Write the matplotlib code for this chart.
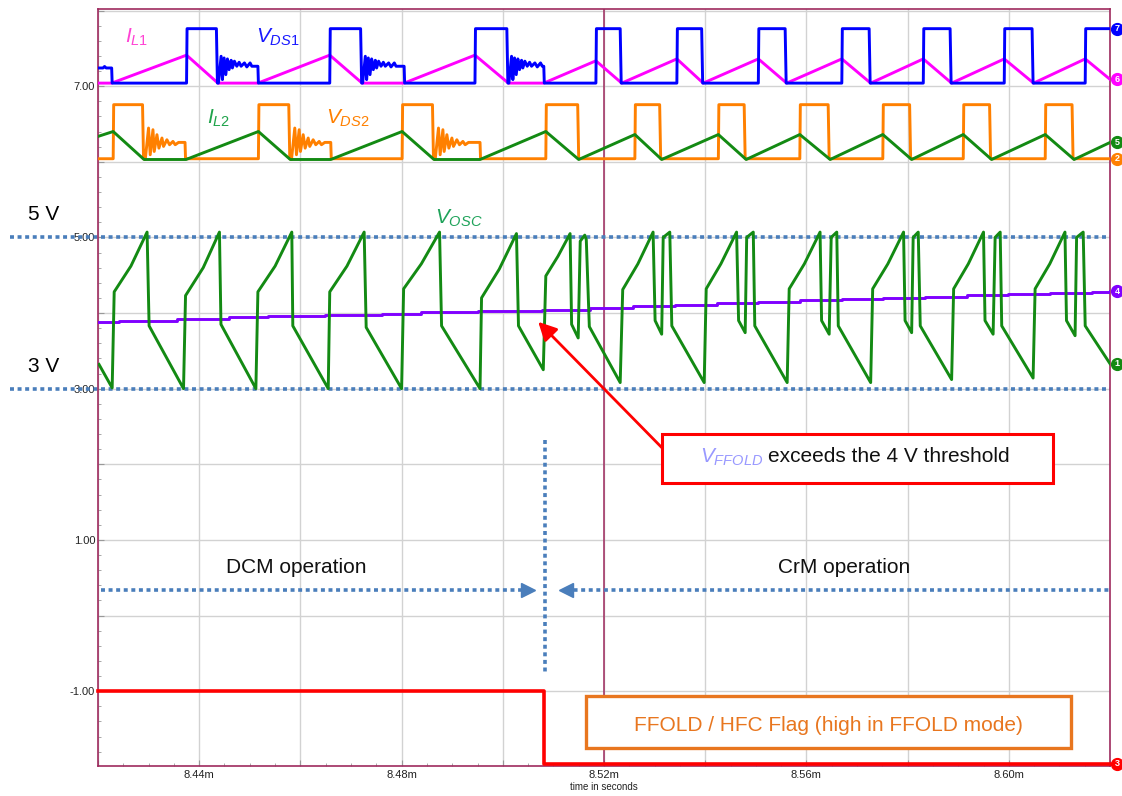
import matplotlib
matplotlib.use('Agg')
import matplotlib.pyplot as plt
from matplotlib.patches import Rectangle
from matplotlib.ticker import MultipleLocator, FuncFormatter

plt.rcParams['font.family'] = ['Liberation Sans', 'DejaVu Sans']
plt.rcParams['mathtext.fontset'] = 'custom'
plt.rcParams['mathtext.it'] = 'Liberation Sans:italic'
plt.rcParams['mathtext.rm'] = 'Liberation Sans'
plt.rcParams['mathtext.bf'] = 'Liberation Sans:bold'

# ---------------- data (time in ms, values in chart units) ----------------
T_START, T_END = 8.42, 8.62

# V_DS1 (trace 7)
vds1_rise = [8.4375, 8.4658, 8.4945, 8.5184, 8.5344, 8.5505, 8.5670, 8.5831, 8.5991, 8.6151]
vds1_fall = [8.4434, 8.4719, 8.5008, 8.5232, 8.5393, 8.5558, 8.5724, 8.5884, 8.6046]
vds1_ring_end = [8.4516, 8.4805, 8.5081]
vds1_ring_dt_us = [0.20, 0.73, 0.99, 1.32, 1.66, 1.98, 2.31, 2.71, 2.96, 3.36, 3.83, 4.29, 4.68, 5.34, 5.81, 6.46, 6.80]
vds1_ring_v = [7.04, 7.395, 7.086, 7.373, 7.152, 7.36, 7.218, 7.342, 7.24, 7.33, 7.263, 7.316, 7.263, 7.307, 7.254, 7.307, 7.263]
vds1_init_t = [8.4200, 8.4210, 8.4213, 8.4216, 8.4227]
vds1_init_v = [7.24, 7.24, 7.26, 7.24, 7.24]
VDS1_LOW, VDS1_HIGH, VDS1_RING = 7.04, 7.76, 7.263

# I_L1 (trace 6)
il1_t = [8.4200, 8.4227, 8.4375, 8.4437, 8.4516, 8.4658, 8.4722, 8.4805, 8.4945, 8.5011, 8.5081,
         8.5184, 8.5235, 8.5344, 8.5396, 8.5505, 8.5561, 8.5670, 8.5727, 8.5831, 8.5887, 8.5991,
         8.6049, 8.6151, 8.6200]
il1_v = [7.04, 7.04, 7.41, 7.04, 7.04, 7.41, 7.04, 7.04, 7.41, 7.04, 7.04,
         7.335, 7.04, 7.36, 7.04, 7.36, 7.04, 7.36, 7.04, 7.36, 7.04, 7.36,
         7.04, 7.36, 7.09]

# V_DS2 (trace 2)
vds2_rise = [8.4230, 8.4517, 8.4801, 8.5085, 8.5261, 8.5426, 8.5587, 8.5751, 8.5910, 8.6072]
vds2_fall = [8.4288, 8.4577, 8.4861, 8.5148, 8.5310, 8.5477, 8.5643, 8.5804, 8.5962, 8.6125]
vds2_ring_end = [8.4372, 8.4660, 8.4955]
vds2_ring_dt_us = [0.34, 0.99, 1.32, 1.86, 2.11, 2.65, 3.04, 3.64, 3.95, 4.62, 5.14, 5.81, 6.26, 6.92]
vds2_ring_v = [6.03, 6.446, 6.093, 6.424, 6.136, 6.358, 6.18, 6.314, 6.203, 6.291, 6.225, 6.269, 6.225, 6.256]
VDS2_LOW, VDS2_HIGH, VDS2_RING = 6.04, 6.755, 6.256

# I_L2 (trace 5)
il2_t = [8.4200, 8.4230, 8.4291, 8.4374, 8.4517, 8.4580, 8.4660, 8.4801, 8.4864, 8.4955, 8.5085,
         8.5150, 8.5261, 8.5314, 8.5426, 8.5481, 8.5587, 8.5647, 8.5751, 8.5808, 8.5910, 8.5966,
         8.6072, 8.6129, 8.6200]
il2_v = [6.335, 6.40, 6.03, 6.03, 6.40, 6.03, 6.03, 6.40, 6.03, 6.03, 6.40,
         6.03, 6.36, 6.03, 6.36, 6.03, 6.36, 6.03, 6.36, 6.03, 6.36, 6.03,
         6.36, 6.03, 6.255]

# V_OSC (trace 1)
osc_t = [8.4202, 8.4228, 8.4232, 8.4265, 8.4297, 8.4301, 8.4369,
         8.4373, 8.4408, 8.4440, 8.4443, 8.4512,
         8.4516, 8.4550, 8.4583, 8.4585, 8.4655,
         8.4658, 8.4692, 8.4726, 8.4730, 8.4800,
         8.4804, 8.4839, 8.4875, 8.4879, 8.4955,
         8.4958, 8.4993, 8.5027, 8.5031, 8.5080,
         8.5085, 8.5109, 8.5133, 8.5136, 8.5149, 8.5153, 8.5162, 8.5165, 8.5171, 8.5232,
         8.5237, 8.5267, 8.5297, 8.5301, 8.5314, 8.5317, 8.5330, 8.5334, 8.5398,
         8.5402, 8.5431, 8.5462, 8.5466, 8.5479, 8.5482, 8.5495, 8.5498, 8.5562,
         8.5566, 8.5596, 8.5627, 8.5630, 8.5645, 8.5649, 8.5660, 8.5663, 8.5727,
         8.5731, 8.5761, 8.5792, 8.5795, 8.5808, 8.5811, 8.5821, 8.5825, 8.5887,
         8.5891, 8.5920, 8.5950, 8.5953, 8.5969, 8.5973, 8.5983, 8.5986, 8.6048,
         8.6052, 8.6081, 8.6111, 8.6114, 8.6131, 8.6134, 8.6147, 8.6151, 8.6200]
osc_v = [3.32, 3.01, 4.28, 4.62, 5.07, 3.83, 3.00,
         4.23, 4.60, 5.07, 3.85, 3.00,
         4.28, 4.62, 5.07, 3.83, 3.00,
         4.28, 4.62, 5.07, 3.81, 3.00,
         4.32, 4.65, 5.07, 3.83, 3.00,
         4.20, 4.58, 5.05, 3.83, 3.25,
         4.49, 4.75, 5.05, 3.85, 3.67, 4.95, 5.03, 4.97, 3.82, 3.08,
         4.31, 4.65, 5.07, 3.90, 3.72, 5.00, 5.07, 3.83, 3.08,
         4.32, 4.65, 5.07, 3.90, 3.74, 5.00, 5.07, 3.83, 3.08,
         4.32, 4.65, 5.07, 3.90, 3.72, 5.00, 5.07, 3.83, 3.08,
         4.32, 4.65, 5.07, 3.90, 3.74, 5.00, 5.07, 3.83, 3.12,
         4.32, 4.65, 5.07, 3.90, 3.72, 5.00, 5.07, 3.83, 3.14,
         4.32, 4.65, 5.07, 3.90, 3.70, 5.00, 5.07, 3.83, 3.33]

# V_FFOLD (trace 4), stepped
ffold_t = [8.4200, 8.4241, 8.4357, 8.4458, 8.4536, 8.4649, 8.4761, 8.4838, 8.4951, 8.5078, 8.5172,
           8.5257, 8.5340, 8.5423, 8.5504, 8.5587, 8.5670, 8.5751, 8.5834, 8.5917, 8.5998, 8.6081,
           8.6164, 8.6200]
ffold_v = [3.884, 3.898, 3.920, 3.942, 3.956, 3.973, 3.991, 4.009, 4.027, 4.044, 4.067,
           4.091, 4.109, 4.127, 4.145, 4.167, 4.180, 4.198, 4.216, 4.234, 4.247, 4.270,
           4.278, 4.287]

# FFOLD / HFC flag (trace 3)
flag_t = [8.4200, 8.5081, 8.6200]
flag_v = [-1.00, -1.96, -1.96]

# axis ticks
x_tick_labels = ['8.44m', '8.48m', '8.52m', '8.56m', '8.60m']
y_tick_labels = ['-1.00', '1.00', '3.00', '5.00', '7.00']

# ---------------- colours ----------------
C_BLUE = '#0000ff'
C_MAG = '#ff00ff'
C_ORANGE = '#ff8000'
C_GREEN = '#138a13'
C_PURPLE = '#8000ff'
C_RED = '#ff0000'
C_FRAME = '#9e2a5e'
C_DOT = '#4a7ebb'


def switch_wave(init_t, init_v, rise, fall, ring_end, ring_dt_us, ring_v, low, high, ring_level):
    ts = list(init_t)
    vs = list(init_v)
    if init_v[-1] != low:
        ts.append(init_t[-1] + 0.0001)
        vs.append(low)
    for i, r in enumerate(rise):
        ts += [r, r + 0.0001]
        vs += [low, high]
        if i < len(fall):
            f = fall[i]
            fe = f + 0.0002
            ts += [f, fe]
            vs += [high, low]
            if i < len(ring_end):
                for dt, v in zip(ring_dt_us, ring_v):
                    ts.append(fe + dt / 1000.0)
                    vs.append(v)
                ts += [ring_end[i], ring_end[i] + 0.0001]
                vs += [ring_level, low]
        else:
            ts.append(T_END)
            vs.append(high)
    if ts[-1] < T_END:
        ts.append(T_END)
        vs.append(vs[-1])
    return ts, vs


fig = plt.figure(figsize=(11.22, 7.96), dpi=100)
ax = fig.add_axes([98 / 1122, 30 / 796, 1012 / 1122, 757 / 796])
ax.set_xlim(T_START, T_END)
ax.set_ylim(-1.99, 8.02)
ax.set_axisbelow(True)

# ticks / grid
ax.xaxis.set_major_locator(MultipleLocator(0.02))
ax.xaxis.set_minor_locator(MultipleLocator(0.005))
ax.yaxis.set_major_locator(MultipleLocator(1.0))
ax.yaxis.set_minor_locator(MultipleLocator(0.2))
xlab_map = {int(round(float(s[:-1]) * 100)): s for s in x_tick_labels}
ylab_map = {int(round(float(s))): s for s in y_tick_labels}
ax.xaxis.set_major_formatter(FuncFormatter(lambda v, p: xlab_map.get(int(round(v * 100)), '')))
ax.yaxis.set_major_formatter(FuncFormatter(lambda v, p: ylab_map.get(int(round(v)), '')))
ax.grid(True, which='major', color='#d2d2d2', lw=1.0)
ax.tick_params(which='both', direction='in', color='#999999', labelsize=8, labelcolor='#222222')
ax.tick_params(which='major', length=4)
ax.tick_params(which='minor', length=2.5)
ax.tick_params(axis='y', pad=2)
ax.tick_params(axis='x', pad=3)
ax.set_xlabel('time in seconds', fontsize=7, labelpad=1, color='#222222')
for s in ax.spines.values():
    s.set_color(C_FRAME)
    s.set_linewidth(1.2)

# cursor line at 8.52m
ax.axvline(8.52, color=C_FRAME, lw=1.1, zorder=1.5)

# dotted 5 V / 3 V reference lines (extend to the left of the axes)
for yv in (5.0, 3.0):
    ax.plot([-0.087, 1.0], [yv, yv], transform=ax.get_yaxis_transform(), color=C_DOT,
            lw=2.6, linestyle=(0, (1.1, 1.0)), clip_on=False, zorder=1.8,
            solid_capstyle='butt', dash_capstyle='butt')

LW = 2.1
# traces
t, v = switch_wave(vds1_init_t, vds1_init_v, vds1_rise, vds1_fall, vds1_ring_end,
                   vds1_ring_dt_us, vds1_ring_v, VDS1_LOW, VDS1_HIGH, VDS1_RING)
ax.plot(il1_t, il1_v, color=C_MAG, lw=LW, zorder=3)
ax.plot(t, v, color=C_BLUE, lw=LW, zorder=3.1)
t2, v2 = switch_wave([T_START], [VDS2_LOW], vds2_rise, vds2_fall, vds2_ring_end,
                     vds2_ring_dt_us, vds2_ring_v, VDS2_LOW, VDS2_HIGH, VDS2_RING)
ax.plot(t2, v2, color=C_ORANGE, lw=LW, zorder=3)
ax.plot(il2_t, il2_v, color=C_GREEN, lw=LW, zorder=3.1)
ax.plot(ffold_t, ffold_v, color=C_PURPLE, lw=LW, drawstyle='steps-post', zorder=3)
ax.plot(osc_t, osc_v, color=C_GREEN, lw=LW, zorder=3.1)
ax.plot(flag_t, flag_v, color=C_RED, lw=2.6, drawstyle='steps-post', zorder=3, clip_on=False)

# numbered end markers
XM = 8.6214
end_markers = [('7', vds1_rise and VDS1_HIGH, C_BLUE), ('6', il1_v[-1], C_MAG),
               ('5', il2_v[-1], C_GREEN), ('2', VDS2_LOW, C_ORANGE),
               ('4', ffold_v[-1], C_PURPLE), ('1', osc_v[-1], C_GREEN), ('3', flag_v[-1], C_RED)]
for num, yv, c in end_markers:
    ax.plot([XM], [yv], 'o', ms=8.5, color=c, clip_on=False, zorder=10)
    ax.text(XM, yv, num, color='white', fontsize=6.5, fontweight='bold', ha='center',
            va='center', clip_on=False, zorder=11)

# trace labels
ax.text(8.4253, 7.64, r'$\mathit{I}_{\mathit{L1}}$', color='#ff44d4', fontsize=15, ha='left', va='center')
ax.text(8.4512, 7.64, r'$\mathit{V}_{\mathit{DS1}}$', color='#1a1aff', fontsize=15, ha='left', va='center')
ax.text(8.4415, 6.57, r'$\mathit{I}_{\mathit{L2}}$', color='#1fa34a', fontsize=15, ha='left', va='center')
ax.text(8.4651, 6.57, r'$\mathit{V}_{\mathit{DS2}}$', color='#ff8000', fontsize=15, ha='left', va='center')
ax.text(8.4866, 5.25, r'$\mathit{V}_{\mathit{OSC}}$', color='#1fa35a', fontsize=15, ha='left', va='center')

# 5 V / 3 V labels
fig.text(44 / 1122, 1 - 215 / 796, '5 V', fontsize=15, ha='center', va='center')
fig.text(44 / 1122, 1 - 366 / 796, '3 V', fontsize=15, ha='center', va='center')

# DCM / CrM annotations
ax.text(8.4591, 0.64, 'DCM operation', fontsize=15, ha='center', va='center', color='#111111')
ax.text(8.5674, 0.64, 'CrM operation', fontsize=15, ha='center', va='center', color='#111111')
dot_style = dict(color=C_DOT, lw=2.6, linestyle=(0, (1.1, 1.0)), zorder=4)
ax.plot([8.4205, 8.5050], [0.336, 0.336], **dot_style)
ax.plot([8.5050], [0.336], marker='>', ms=10, color=C_DOT, zorder=4, linestyle='none')
ax.plot([8.5125, 8.6200], [0.336, 0.336], **dot_style)
ax.plot([8.5125], [0.336], marker='<', ms=10, color=C_DOT, zorder=4, linestyle='none')
ax.plot([8.5083, 8.5083], [2.32, -0.79], **dot_style)

# V_FFOLD threshold callout
ax.add_patch(Rectangle((8.5315, 1.752), 8.6087 - 8.5315, 2.400 - 1.752, facecolor='white',
                       edgecolor=C_RED, lw=2.2, zorder=6))
ax.text(8.5390, 2.096, r'$\mathit{V}_{\mathit{FFOLD}}$', color='#9999ff', fontsize=15,
        ha='left', va='center', zorder=7)
ax.text(8.5525, 2.096, 'exceeds the 4 V threshold', color='#111111', fontsize=15,
        ha='left', va='center', zorder=7)
ax.annotate('', xy=(8.5070, 3.883), xytext=(8.5315, 2.215),
            arrowprops=dict(arrowstyle='-|>,head_length=0.55,head_width=0.28', color=C_RED,
                            lw=2.0, mutation_scale=20, shrinkA=0, shrinkB=0), zorder=6)

# flag callout
ax.add_patch(Rectangle((8.5164, -1.756), 8.6123 - 8.5164, -1.067 + 1.756, facecolor='white',
                       edgecolor='#e8761f', lw=2.4, zorder=6))
ax.text(8.5643, -1.451, 'FFOLD / HFC Flag (high in FFOLD mode)', color='#e8761f', fontsize=15,
        ha='center', va='center', zorder=7)

fig.savefig('out.png', dpi=100)
